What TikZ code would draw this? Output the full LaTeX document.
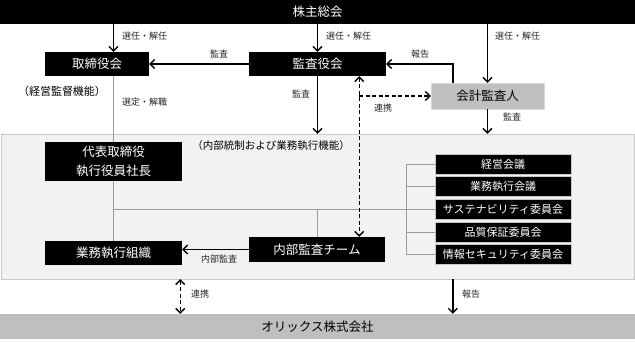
\documentclass[tikz,border=0pt]{standalone}
\usepackage{fontspec}
\setmainfont{Noto Sans CJK JP}
\usetikzlibrary{arrows.meta}
\definecolor{boxgray}{HTML}{BFBFBF}
\definecolor{areagray}{HTML}{F2F2F2}
\definecolor{areaedge}{HTML}{C8C8C8}
\definecolor{linegray}{HTML}{9A9A9A}
\begin{document}
\begin{tikzpicture}[x = 1pt, y = -1pt,
  > = {Straight Barb[length = 4.5pt, width = 9pt]},
  blackbox/.style = {fill = black, text = white, inner sep = 0pt, font = \fontsize{12.5}{15}\selectfont},
  sidebox/.style = {blackbox, draw = gray!45, minimum width = 136pt, minimum height = 20pt, font = \fontsize{11}{13}\selectfont},
  lbl/.style = {text = black!85, inner sep = 1pt, font = \fontsize{9}{10}\selectfont},
  arr/.style = {->, line width = 1.4pt},
  dashline/.style = {dash pattern = on 4pt off 2.5pt},
  tie/.style = {linegray, line width = 0.8pt}]
\useasboundingbox (0,0) rectangle (635,342);
% background of the executive part
\node [draw = areaedge, fill = areagray, minimum width = 633pt, minimum height = 145pt, inner sep = 0pt] (area) at (317.5,206.5) {};
% boxes
\node [blackbox, minimum width = 635pt, minimum height = 24pt] (meeting) at (317.5,12) {株主総会};
\node [blackbox, minimum width = 104pt, minimum height = 24pt] (board) at (97,64) {取締役会};
\node [blackbox, minimum width = 137pt, minimum height = 24pt] (audit) at (317.5,64) {監査役会};
\node [blackbox, fill = boxgray, draw = gray!30, text = black, minimum width = 113pt, minimum height = 26pt] (auditor) at (487.5,96) {会計監査人};
\node [blackbox, minimum width = 137pt, minimum height = 39pt, align = center, font = \fontsize{12.5}{18.5}\selectfont] (ceo) at (113.5,161.5) {代表取締役\\執行役員社長};
\node [blackbox, minimum width = 137pt, minimum height = 24pt] (ops) at (113.5,253) {業務執行組織};
\node [blackbox, minimum width = 136pt, minimum height = 25pt] (internal) at (317,249.5) {内部監査チーム};
\node [blackbox, fill = boxgray, text = black, minimum width = 635pt, minimum height = 25pt] (orix) at (317.5,326.5) {オリックス株式会社};
\foreach \name/\y/\txt in {c1/164/経営会議, c2/186.5/業務執行会議, c3/209.5/サステナビリティ委員会, c4/232/品質保証委員会, c5/254.5/情報セキュリティ委員会}
  \node [sidebox] (\name) at (503,\y) {\txt};
% gray tree lines
\draw [tie] (board.south -| ceo.north) -- (ceo.north);
\draw [tie] (ceo.south) -- (ops.north);
\draw [tie] (ceo.south |- c3.west) -- (c3.west);
\draw [tie] (internal.north |- c3.west) -- (internal.north);
\draw [tie] ([xshift = -28pt]c1.west) -- ([xshift = -28pt]c5.west);
\foreach \name in {c1,c2,c4,c5}
  \draw [tie] ([xshift = -28pt]\name.west) -- (\name.west);
% arrows
\coordinate (rep) at ([xshift = 22pt]auditor.north west);
\coordinate (link) at ([xshift = -27pt]audit.south east);
\draw [arr] (meeting.south -| ceo.north) -- (board.north -| ceo.north);
\draw [arr] (meeting.south -| audit.north) -- (audit.north);
\draw [arr] (meeting.south -| auditor.north) -- (auditor.north);
\draw [arr] (audit.west) -- (board.east);
\draw [arr] (rep) |- (audit.east);
\draw [arr] (audit.south) -- (audit.south |- area.north);
\draw [arr] (auditor.south) -- (auditor.south |- area.north);
\draw [arr, <->, dashline] (link) -- (link |- internal.north);
\draw [arr, dashline] (link |- auditor.west) -- (auditor.west);
\draw [arr] (internal.west) -- (internal.west -| ops.east);
\draw [arr, <->, dashline] ([xshift = -2pt]ops.east |- area.south) -- ([xshift = -2pt]ops.east |- orix.north);
\draw [arr] (rep |- area.south) -- (rep |- orix.north);
% labels
\node [lbl, anchor = west] (elect1) at (121,36) {選任・解任};
\node [lbl, anchor = west] (elect2) at (325,36) {選任・解任};
\node [lbl, anchor = west] (elect3) at (494,36) {選任・解任};
\node [lbl] (audit1) at (219,54) {監査};
\node [lbl] (report1) at (420,54) {報告};
\node [lbl] (audit2) at (301,94) {監査};
\node [lbl] (link1) at (383,108) {連携};
\node [lbl] (audit3) at (512,117) {監査};
\node [lbl, anchor = west] (appoint) at (121,102) {選定・解職};
\node [lbl] (audit4) at (219,259) {内部監査};
\node [lbl] (link2) at (200,294) {連携};
\node [lbl] (report2) at (471,294) {報告};
\node [font = \fontsize{11}{13}\selectfont] (func1) at (62,91) {（経営監督機能）};
\node [font = \fontsize{10.5}{12}\selectfont] (func2) at (271,146) {（内部統制および業務執行機能）};
\end{tikzpicture}
\end{document}
